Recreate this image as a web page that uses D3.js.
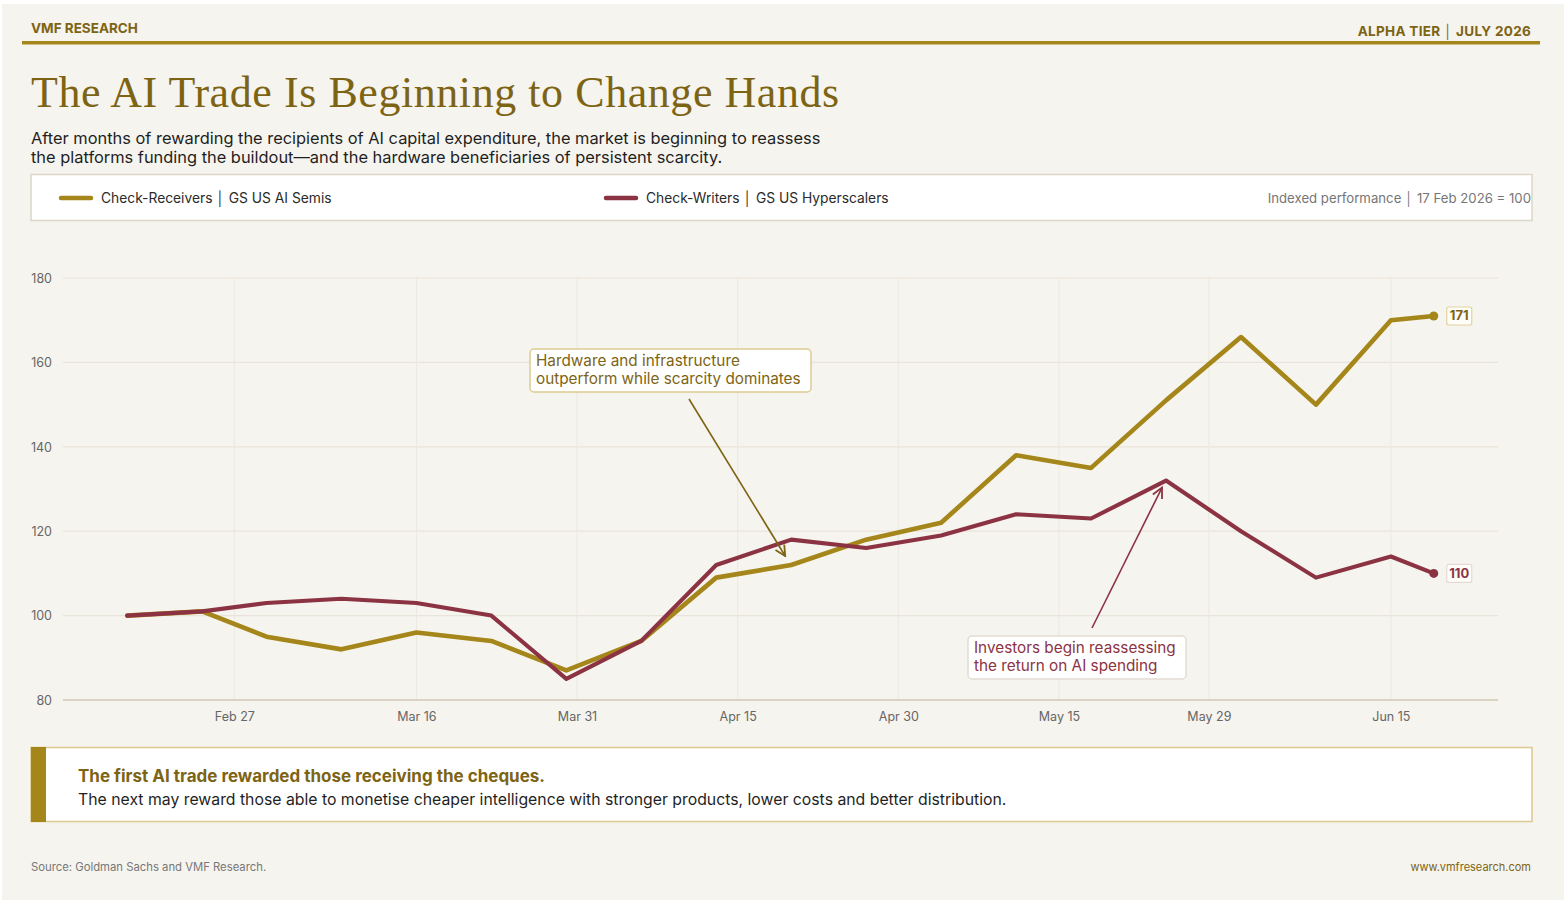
<!DOCTYPE html>
<html>
<head>
<meta charset="utf-8">
<script src="https://cdn.jsdelivr.net/npm/d3@7"></script>
<style>
  html, body { margin: 0; padding: 0; background: #ffffff; }
  svg { display: block; font-family: Inter, "Noto Sans", sans-serif; }
</style>
</head>
<body>
<svg id="chart" width="1566" height="904"></svg>
<script>
const dates = ["2026-02-17", "2026-02-24", "2026-03-02", "2026-03-09", "2026-03-16", "2026-03-23", "2026-03-30",
  "2026-04-06", "2026-04-13", "2026-04-20", "2026-04-27", "2026-05-04", "2026-05-11", "2026-05-18", "2026-05-25",
  "2026-06-01", "2026-06-08", "2026-06-15", "2026-06-19"];
const receivers = [100, 101, 95, 92, 96, 94, 87, 94, 109, 112, 118, 122, 138, 135, 151, 166, 150, 170, 171];
const writers = [100, 101, 103, 104, 103, 100, 85, 94, 112, 118, 116, 119, 124, 123, 132, 120, 109, 114, 110];
const tickDates = ["2026-02-27", "2026-03-16", "2026-03-31", "2026-04-15", "2026-04-30", "2026-05-15", "2026-05-29", "2026-06-15"];
const yTicks = [80, 100, 120, 140, 160, 180];

const GOLD = "#a5861a";
const GOLD_DARK = "#7d6414";
const RED = "#8c3343";

const parse = d3.utcParse("%Y-%m-%d");
const svg = d3.select("#chart");

// page card
svg.append("rect").attr("x", 2).attr("y", 4).attr("width", 1562).attr("height", 896).attr("fill", "#f6f4ee");

// header
svg.append("text").attr("x", 31).attr("y", 33).attr("font-size", 13.5).attr("font-weight", 700)
  .attr("fill", GOLD_DARK).text("VMF RESEARCH");
svg.append("text").attr("x", 1531).attr("y", 36).attr("text-anchor", "end").attr("font-size", 13.5).attr("font-weight", 700)
  .attr("fill", GOLD_DARK).attr("letter-spacing", 0.3).text("ALPHA TIER \u2502 JULY 2026");
svg.append("rect").attr("x", 22).attr("y", 41).attr("width", 1518).attr("height", 3.5).attr("fill", GOLD);

// title
const title = svg.append("text").attr("x", 31).attr("y", 107)
  .attr("font-family", "'Liberation Serif', 'DejaVu Serif', serif").attr("font-size", 44)
  .attr("fill", GOLD_DARK).attr("letter-spacing", 0.6).text("The AI Trade Is Beginning to Change Hands");
const tw = title.node().getComputedTextLength();
title.attr("font-size", 44 * 809 / tw);

const sub = svg.append("text").attr("font-size", 16.4).attr("fill", "#1f1f1f");
sub.append("tspan").attr("x", 31).attr("y", 144)
  .text("After months of rewarding the recipients of AI capital expenditure, the market is beginning to reassess");
sub.append("tspan").attr("x", 31).attr("y", 163)
  .text("the platforms funding the buildout\u2014and the hardware beneficiaries of persistent scarcity.");

// legend box
svg.append("rect").attr("x", 31).attr("y", 174.5).attr("width", 1501).attr("height", 46)
  .attr("fill", "#ffffff").attr("stroke", "#dcd6c9").attr("stroke-width", 1.5);
const legendItems = [
  { x: 59, color: GOLD, label: "Check-Receivers \u2502 GS US AI Semis" },
  { x: 604, color: RED, label: "Check-Writers \u2502 GS US Hyperscalers" },
];
legendItems.forEach((d) => {
  svg.append("line").attr("x1", d.x + 2).attr("x2", d.x + 32).attr("y1", 198).attr("y2", 198)
    .attr("stroke", d.color).attr("stroke-width", 4.5).attr("stroke-linecap", "round");
  svg.append("text").attr("x", d.x + 42).attr("y", 203).attr("font-size", 13.8).attr("fill", "#2a2a2a").text(d.label);
});
svg.append("text").attr("x", 1531).attr("y", 203).attr("text-anchor", "end").attr("font-size", 13.2)
  .attr("fill", "#767676").text("Indexed performance \u2502 17 Feb 2026 = 100");

// chart scales
const x = d3.scaleUtc().domain([parse("2026-02-11"), parse("2026-06-25")]).range([63, 1498]);
const y = d3.scaleLinear().domain([80, 180]).range([700, 278]);

// grid
const grid = svg.append("g");
grid.selectAll("line.h").data(yTicks).enter().append("line")
  .attr("x1", 63).attr("x2", 1498).attr("y1", (v) => y(v)).attr("y2", (v) => y(v))
  .attr("stroke", (v) => (v === 80 ? "#d9d3c4" : "#e9e4d9")).attr("stroke-width", (v) => (v === 80 ? 2 : 1.2));
grid.selectAll("line.v").data(tickDates).enter().append("line")
  .attr("x1", (d) => x(parse(d))).attr("x2", (d) => x(parse(d))).attr("y1", 278).attr("y2", 699)
  .attr("stroke", "#ece8de").attr("stroke-width", 1);

// axes
const yAxis = svg.append("g").attr("transform", "translate(52,0)")
  .call(d3.axisLeft(y).tickValues(yTicks).tickSize(0).tickPadding(0));
yAxis.select(".domain").remove();
yAxis.selectAll("text").attr("font-size", 12.5).attr("fill", "#666").attr("font-family", "Inter, sans-serif").attr("dy", "0.35em");

const xAxis = svg.append("g").attr("transform", "translate(0,712)")
  .call(d3.axisBottom(x).tickValues(tickDates.map(parse)).tickFormat(d3.utcFormat("%b %-d")).tickSize(0).tickPadding(0));
xAxis.select(".domain").remove();
xAxis.selectAll("text").attr("font-size", 12.5).attr("fill", "#666").attr("font-family", "Inter, sans-serif");

// lines
const series = [
  { values: receivers, color: GOLD, width: 4.6, label: "171", labelColor: GOLD_DARK, border: "#e2d3a0" },
  { values: writers, color: RED, width: 4.1, label: "110", labelColor: RED, border: "#e5d9d6" },
];
const line = d3.line().x((d) => x(d.date)).y((d) => y(d.value));
series.forEach((s) => {
  const pts = dates.map((d, i) => ({ date: parse(d), value: s.values[i] }));
  svg.append("path").datum(pts).attr("d", line).attr("fill", "none").attr("stroke", s.color)
    .attr("stroke-width", s.width).attr("stroke-linejoin", "round").attr("stroke-linecap", "round");
  const last = pts[pts.length - 1];
  svg.append("circle").attr("cx", x(last.date)).attr("cy", y(last.value)).attr("r", 4.5).attr("fill", s.color);
  const lx = x(last.date) + 13;
  const ly = y(last.value);
  svg.append("rect").attr("x", lx).attr("y", ly - 9).attr("width", 25).attr("height", 18).attr("rx", 2)
    .attr("fill", "#fffdf8").attr("stroke", s.border).attr("stroke-width", 1.2);
  svg.append("text").attr("x", lx + 12.5).attr("y", ly + 4.5).attr("text-anchor", "middle").attr("font-size", 13)
    .attr("font-weight", 700).attr("fill", s.labelColor).text(s.label);
});

// annotations
const defs = svg.append("defs");
[["arrGold", GOLD_DARK], ["arrRed", RED]].forEach(([id, c]) => {
  defs.append("marker").attr("id", id).attr("viewBox", "0 0 10 10").attr("refX", 9).attr("refY", 5)
    .attr("markerWidth", 8).attr("markerHeight", 8).attr("orient", "auto-start-reverse")
    .append("path").attr("d", "M1,1 L9,5 L1,9").attr("fill", "none").attr("stroke", c).attr("stroke-width", 1.4);
});

const notes = [
  { x: 530, y: 349, w: 281, h: 43, color: GOLD_DARK, border: "#dccb93",
    lines: ["Hardware and infrastructure", "outperform while scarcity dominates"],
    from: [689, 399], target: ["2026-04-20", 112], off: [-6, -9], marker: "arrGold" },
  { x: 968, y: 636, w: 218, h: 43, color: RED, border: "#e3dcd3",
    lines: ["Investors begin reassessing", "the return on AI spending"],
    from: [1092, 628], target: ["2026-05-25", 132], off: [-4, 7], marker: "arrRed" },
];
notes.forEach((n) => {
  svg.append("rect").attr("x", n.x).attr("y", n.y).attr("width", n.w).attr("height", n.h).attr("rx", 4)
    .attr("fill", "#ffffff").attr("stroke", n.border).attr("stroke-width", 1.5);
  const t = svg.append("text").attr("font-size", 15.3).attr("fill", n.color);
  n.lines.forEach((l, i) => t.append("tspan").attr("x", n.x + 6).attr("y", n.y + 17 + i * 18).text(l));
  svg.append("line").attr("x1", n.from[0]).attr("y1", n.from[1])
    .attr("x2", x(parse(n.target[0])) + n.off[0]).attr("y2", y(n.target[1]) + n.off[1])
    .attr("stroke", n.color).attr("stroke-width", 1.6).attr("marker-end", `url(#${n.marker})`);
});

// takeaway box
svg.append("rect").attr("x", 31).attr("y", 747.5).attr("width", 1501).attr("height", 74)
  .attr("fill", "#ffffff").attr("stroke", "#dccb93").attr("stroke-width", 1.6);
svg.append("rect").attr("x", 31).attr("y", 747).attr("width", 15).attr("height", 75).attr("fill", GOLD);
svg.append("text").attr("x", 78).attr("y", 782).attr("font-size", 17).attr("font-weight", 700).attr("fill", GOLD_DARK)
  .text("The first AI trade rewarded those receiving the cheques.");
svg.append("text").attr("x", 78).attr("y", 805).attr("font-size", 15.8).attr("fill", "#1f1f1f")
  .text("The next may reward those able to monetise cheaper intelligence with stronger products, lower costs and better distribution.");

// footer
svg.append("text").attr("x", 31).attr("y", 871).attr("font-size", 11.3).attr("fill", "#777")
  .text("Source: Goldman Sachs and VMF Research.");
svg.append("text").attr("x", 1531).attr("y", 871).attr("text-anchor", "end").attr("font-size", 11).attr("fill", GOLD_DARK)
  .text("www.vmfresearch.com");
</script>
</body>
</html>
